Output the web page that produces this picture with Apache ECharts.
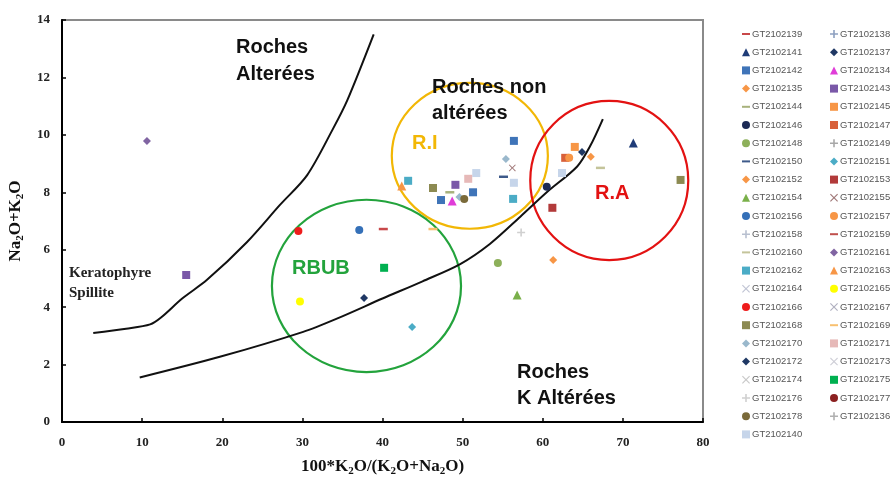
<!DOCTYPE html>
<html><head><meta charset="utf-8">
<script src="https://cdn.jsdelivr.net/npm/echarts@6/dist/echarts.min.js"></script>
<style>html,body{margin:0;padding:0;background:#fff}#c{width:893px;height:479px}</style>
</head><body><div id="c"></div><script>
// ---------- data ----------
const xTicks = [0, 10, 20, 30, 40, 50, 60, 70, 80];
const yTicks = [0, 2, 4, 6, 8, 10, 12, 14];

const sampleNames = [
  'GT2102139','GT2102141','GT2102142','GT2102135','GT2102144','GT2102146','GT2102148','GT2102150',
  'GT2102152','GT2102154','GT2102156','GT2102158','GT2102160','GT2102162','GT2102164','GT2102166',
  'GT2102168','GT2102170','GT2102172','GT2102174','GT2102176','GT2102178','GT2102140',
  'GT2102138','GT2102137','GT2102134','GT2102143','GT2102145','GT2102147','GT2102149','GT2102151',
  'GT2102153','GT2102155','GT2102157','GT2102159','GT2102161','GT2102163','GT2102165','GT2102167',
  'GT2102169','GT2102171','GT2102173','GT2102175','GT2102177','GT2102136'
];
const sampleX = [
  [40.1],[71.3],[47.3,51.3,56.4],[66.0],[48.4],[60.5],[54.4],[55.1],
  [61.3],[56.8],[37.1],[],[67.2],[43.2,56.3],[],[29.5],
  [46.3,77.2],[49.6,55.4],[37.7],[],[57.3],[50.2],[51.7,56.4,62.4],
  [],[64.9],[48.7],[15.5,49.1],[64.0],[62.8],[],[43.7],
  [61.2],[56.2],[63.3],[],[10.6],[42.4],[29.7],[],
  [46.3],[50.7],[],[40.2],[],[]
];
const sampleY = [
  [6.72],[9.72],[7.73,8.0,9.79],[9.24],[8.0],[8.19],[5.54],[8.54],
  [5.64],[4.42],[6.69],[],[8.85],[8.4,7.77],[],[6.65],
  [8.15,8.43],[7.84,9.16],[4.32],[],[6.6],[7.77],[8.67,8.33,8.67],
  [],[9.4],[7.7],[5.12,8.26],[9.58],[9.2],[],[3.31],
  [7.46],[8.85],[9.2],[],[9.79],[8.22],[4.2],[],
  [6.72],[8.47],[],[5.37],[],[]
];

// boundary curves
const upperCurveX = [3.9, 8.0, 11.0, 12.4, 15.0, 18.1, 23.1, 27.2, 30.6, 33.8, 35.6, 38.9];
const upperCurveY = [3.1, 3.25, 3.4, 3.65, 4.3, 4.95, 6.27, 7.56, 8.6, 10.2, 11.2, 13.5];
const lowerCurveX = [9.7, 19.7, 30.1, 34.3, 40.0, 45.0, 49.7, 53.4, 57.2, 60.5, 64.3, 65.9, 67.5];
const lowerCurveY = [1.55, 2.27, 3.14, 3.6, 4.3, 4.9, 5.5, 6.2, 7.15, 8.0, 8.9, 9.6, 10.55];

// group ellipses (center x, center y, radius x, radius y) in data units
const ellipseNames = ['R.I', 'R.A', 'RBUB'];
const ellipseCX = [50.9, 68.3, 38.0];
const ellipseCY = [9.27, 8.41, 4.74];
const ellipseRX = [9.74, 9.86, 11.8];
const ellipseRY = [2.54, 2.77, 3.0];

// ---------- styles ----------
const DASH = 'path://M0,0H10V2.5H0Z';
const PLUS = 'path://M4,0H6V4H10V6H6V10H4V6H0V4H4Z';
const CROSS = 'path://M1,0L5,4L9,0L10,1L6,5L10,9L9,10L5,6L1,10L0,9L4,5L0,1Z';
const sampleStyle = {
  GT2102139:[DASH,'#c8484a'], GT2102141:['triangle','#1f3c78'], GT2102142:['rect','#3f74b8'],
  GT2102135:['diamond','#f79646'], GT2102144:[DASH,'#a8b27c'], GT2102146:['circle','#1c2a55'],
  GT2102148:['circle','#8db05a'], GT2102150:[DASH,'#3e5a8a'], GT2102152:['diamond','#f79646'],
  GT2102154:['triangle','#7ab04a'], GT2102156:['circle','#3570b8'], GT2102158:[PLUS,'#b8c0d0'],
  GT2102160:[DASH,'#c4c49a'], GT2102162:['rect','#4bacc6'], GT2102164:[CROSS,'#c0c4d4'],
  GT2102166:['circle','#ee1c1c'], GT2102168:['rect','#8c8a52'], GT2102170:['diamond','#9ab8cc'],
  GT2102172:['diamond','#1f3864'], GT2102174:[CROSS,'#c8c8c8'], GT2102176:[PLUS,'#d0d0d0'],
  GT2102178:['circle','#7a6a3a'], GT2102140:['rect','#c6d5ea'],
  GT2102138:[PLUS,'#8da0c0'], GT2102137:['diamond','#1f3864'], GT2102134:['triangle','#e03cd8'],
  GT2102143:['rect','#7a58a8'], GT2102145:['rect','#f79646'], GT2102147:['rect','#d8603a'],
  GT2102149:[PLUS,'#a8a8a8'], GT2102151:['diamond','#4bacc6'], GT2102153:['rect','#b23a3a'],
  GT2102155:[CROSS,'#a07878'], GT2102157:['circle','#f79646'], GT2102159:[DASH,'#c0504d'],
  GT2102161:['diamond','#8064a2'], GT2102163:['triangle','#f79646'], GT2102165:['circle','#ffff00'],
  GT2102167:[CROSS,'#b0b0c0'], GT2102169:[DASH,'#f8c070'], GT2102171:['rect','#e6b9b8'],
  GT2102173:[CROSS,'#d0d0d8'], GT2102175:['rect','#00b050'], GT2102177:['circle','#8b2020'],
  GT2102136:[PLUS,'#b0b0b0']
};
function symSize(sym){
  if (sym === DASH) return [9, 2.5];
  if (sym === PLUS) return 8;
  if (sym === CROSS) return 7;
  if (sym === 'triangle') return 9;
  return 8;
}

const chart = echarts.init(document.getElementById('c'), null, {renderer: 'canvas'});

const scatterSeries = sampleNames.map((name, i) => {
  const st = sampleStyle[name];
  return {
    name: name, type: 'scatter', z: 5,
    symbol: st[0], symbolSize: symSize(st[0]),
    itemStyle: {color: st[1], opacity: 1},
    data: sampleX[i].map((x, j) => [x, sampleY[i][j]])
  };
});

const col1 = sampleNames.slice(0, 23);
const col2 = sampleNames.slice(23);
function legendData(names){
  return names.map(n => ({name: n, icon: sampleStyle[n][0]}));
}
const legendCommon = {
  orient: 'vertical', top: 24, bottom: 0, itemWidth: 8, itemHeight: 8, itemGap: 8.2,
  selectedMode: false, symbolKeepAspect: true,
  textStyle: {fontFamily: 'Liberation Sans', fontSize: 9.5, color: '#555', padding: [0,0,0,-3], lineHeight: 8}
};

const serif = 'Liberation Serif';
const sans = 'Liberation Sans';
const ellipseColors = ['#f2b705', '#e31212', '#23a33c'];

chart.setOption({
  animation: false,
  backgroundColor: '#fff',
  grid: {left: 62, right: 190, top: 20, bottom: 57, show: true, borderColor: '#8a8a8a', borderWidth: 2,
         containLabel: false, outerBoundsMode: 'none'},
  legend: [
    Object.assign({left: 737, data: legendData(col1)}, legendCommon),
    Object.assign({left: 825, data: legendData(col2)}, legendCommon)
  ],
  xAxis: {
    type: 'value', min: xTicks[0], max: xTicks[xTicks.length-1], interval: 10,
    axisLine: {onZero: false, lineStyle: {color: '#000', width: 2}},
    axisTick: {inside: true, length: 4, lineStyle: {color: '#000', width: 1.5}},
    splitLine: {show: false},
    axisLabel: {margin: 14, fontFamily: serif, fontWeight: 'bold', fontSize: 13, color: '#222'},
    name: '{a|100*K}{s|2}{a|O/(K}{s|2}{a|O+Na}{s|2}{a|O)}',
    nameLocation: 'middle', nameGap: 35,
    nameTextStyle: {rich: {
      a: {fontFamily: serif, fontWeight: 'bold', fontSize: 17, color: '#111', lineHeight: 20},
      s: {fontFamily: serif, fontWeight: 'bold', fontSize: 11, color: '#111', lineHeight: 10, verticalAlign: 'bottom'}
    }}
  },
  yAxis: {
    type: 'value', min: yTicks[0], max: yTicks[yTicks.length-1], interval: 2,
    axisLine: {onZero: false, lineStyle: {color: '#000', width: 2}},
    axisTick: {inside: true, length: 4, lineStyle: {color: '#000', width: 1.5}},
    splitLine: {show: false},
    axisLabel: {margin: 12, fontFamily: serif, fontWeight: 'bold', fontSize: 13, color: '#222'},
    name: '{a|Na}{s|2}{a|O+K}{s|2}{a|O}',
    nameLocation: 'middle', nameGap: 34, nameRotate: 90,
    nameTextStyle: {rich: {
      a: {fontFamily: serif, fontWeight: 'bold', fontSize: 17, color: '#111', lineHeight: 20},
      s: {fontFamily: serif, fontWeight: 'bold', fontSize: 11, color: '#111', lineHeight: 10, verticalAlign: 'bottom'}
    }}
  },
  series: [
    {
      type: 'custom', name: 'groups', z: 2, silent: true,
      encode: {x: 0, y: 1},
      data: ellipseNames.map((n, i) => [ellipseCX[i], ellipseCY[i], ellipseRX[i], ellipseRY[i]]),
      renderItem: function(params, api){
        const c = api.coord([api.value(0), api.value(1)]);
        const s = api.size([api.value(2), api.value(3)]);
        return {type: 'ellipse', shape: {cx: c[0], cy: c[1], rx: s[0], ry: s[1]},
          style: {fill: 'none', stroke: ellipseColors[params.dataIndex], lineWidth: 2.2}};
      }
    },
    {
      type: 'line', name: 'upper', z: 3, silent: true, showSymbol: false, smooth: 0.3,
      lineStyle: {color: '#111', width: 2},
      data: upperCurveX.map((x, i) => [x, upperCurveY[i]])
    },
    {
      type: 'line', name: 'lower', z: 3, silent: true, showSymbol: false, smooth: 0.3,
      lineStyle: {color: '#111', width: 2},
      data: lowerCurveX.map((x, i) => [x, lowerCurveY[i]])
    }
  ].concat(scatterSeries),
  graphic: [
    {type: 'text', x: 236, y: 60.5, z: 10, style: {text: 'Roches\nAlterées', fontFamily: sans, fontWeight: 'bold', fontSize: 20, lineHeight: 27, fill: '#111', verticalAlign: 'middle'}},
    {type: 'text', x: 432, y: 100, z: 10, style: {text: 'Roches non\naltérées', fontFamily: sans, fontWeight: 'bold', fontSize: 20, lineHeight: 26, fill: '#111', verticalAlign: 'middle'}},
    {type: 'text', x: 517, y: 385, z: 10, style: {text: 'Roches\nK Altérées', fontFamily: sans, fontWeight: 'bold', fontSize: 20, lineHeight: 26, fill: '#111', verticalAlign: 'middle'}},
    {type: 'text', x: 412, y: 143, z: 10, style: {text: 'R.I', fontFamily: sans, fontWeight: 'bold', fontSize: 20, fill: '#f2b705', verticalAlign: 'middle'}},
    {type: 'text', x: 595, y: 193, z: 10, style: {text: 'R.A', fontFamily: sans, fontWeight: 'bold', fontSize: 20, fill: '#e31212', verticalAlign: 'middle'}},
    {type: 'text', x: 292, y: 268, z: 10, style: {text: 'RBUB', fontFamily: sans, fontWeight: 'bold', fontSize: 20, fill: '#23a33c', verticalAlign: 'middle'}},
    {type: 'text', x: 69, y: 283, z: 10, style: {text: 'Keratophyre\nSpillite', fontFamily: serif, fontWeight: 'bold', fontSize: 15, lineHeight: 20, fill: '#222', verticalAlign: 'middle'}}
  ]
});
</script></body></html>
